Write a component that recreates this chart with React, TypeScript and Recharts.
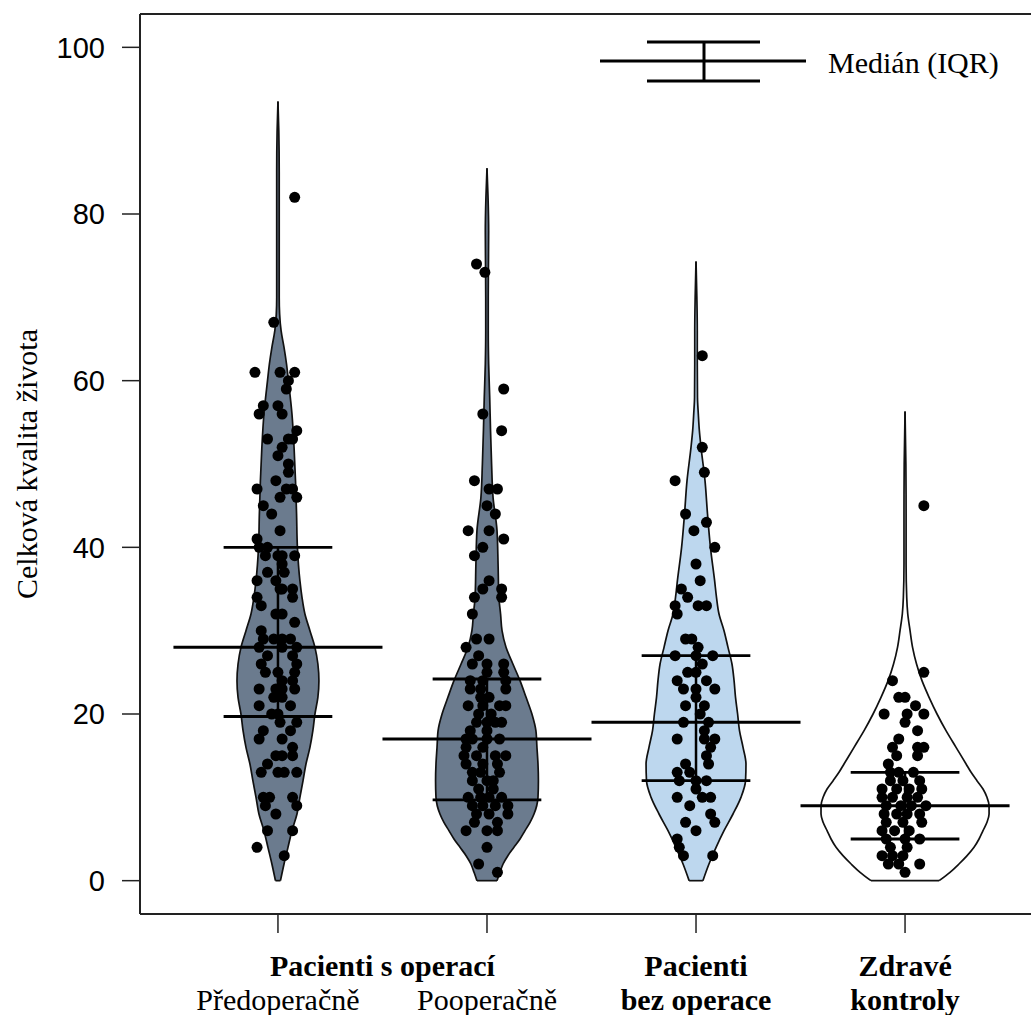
import React from 'react';
import { ComposedChart, Area, Scatter, XAxis, YAxis, ReferenceLine, Legend } from 'recharts';

// ---------- data ----------
const categories = [1, 2, 3, 4];
const medians = [28, 17, 19, 9];
const q1s = [19.7, 9.7, 12, 5];
const q3s = [40, 24.2, 27, 13];
const fills = ['#6b7b8e', '#6b7b8e', '#bdd7ee', '#ffffff'];

// violin outlines: levels (quality value) and half-width (in category units)
const levels1 = [0, 2, 4, 6, 8, 10, 12, 14, 16, 18, 20, 22, 24, 26, 28, 30, 32, 34, 36, 40, 44, 48, 52, 56, 60, 62, 64, 66, 68, 70, 75, 80, 85, 90, 93.5];
const widths1 = [0.012, 0.029, 0.048, 0.067, 0.091, 0.105, 0.12, 0.134, 0.153, 0.167, 0.177, 0.191, 0.196, 0.191, 0.177, 0.153, 0.129, 0.115, 0.105, 0.093, 0.089, 0.084, 0.077, 0.067, 0.05, 0.041, 0.029, 0.015, 0.008, 0.006, 0.006, 0.006, 0.006, 0.004, 0];
const levels2 = [0, 1, 2, 3, 4, 5, 6, 7, 8, 10, 12, 14, 16, 18, 20, 22, 24, 26, 28, 30, 32, 34, 38, 42, 46, 50, 54, 58, 62, 66, 70, 74, 78, 82, 85.5];
const widths2 = [0.048, 0.062, 0.077, 0.1, 0.129, 0.158, 0.182, 0.206, 0.225, 0.244, 0.246, 0.244, 0.239, 0.234, 0.215, 0.187, 0.158, 0.124, 0.091, 0.072, 0.065, 0.057, 0.053, 0.048, 0.029, 0.022, 0.017, 0.013, 0.008, 0.006, 0.006, 0.007, 0.008, 0.005, 0];
const levels3 = [0, 2, 4, 6, 8, 10, 12, 14, 16, 18, 20, 22, 24, 26, 28, 30, 32, 34, 36, 40, 44, 48, 52, 54, 56, 58, 62, 66, 70, 74.3];
const widths3 = [0.033, 0.062, 0.096, 0.134, 0.177, 0.215, 0.237, 0.239, 0.225, 0.208, 0.199, 0.189, 0.182, 0.172, 0.153, 0.134, 0.11, 0.098, 0.089, 0.069, 0.055, 0.043, 0.024, 0.016, 0.011, 0.007, 0.006, 0.006, 0.004, 0];
const levels4 = [0, 1, 2, 3, 4, 5, 6, 7, 8, 9, 10, 11, 12, 13, 14, 16, 18, 20, 22, 24, 26, 28, 30, 32, 34, 38, 44, 50, 56.3];
const widths4 = [0.163, 0.215, 0.258, 0.297, 0.33, 0.354, 0.373, 0.392, 0.402, 0.402, 0.392, 0.373, 0.344, 0.316, 0.292, 0.244, 0.196, 0.153, 0.115, 0.081, 0.055, 0.036, 0.024, 0.013, 0.008, 0.005, 0.005, 0.004, 0];

// points: [value, jitter in hundredths of category spacing]
const points1: [number, number][] = [
  [82, 8], [67, -2], [61, -11], [61, 1], [61, 8], [60, 5], [59, 4], [57, -7], [56, -9], [57, 0], [56, 2], [54, 9],
  [53, -5], [53, 5], [53, 7], [52, 2], [51, 0], [50, 5], [49, 5], [48, -1], [47, -10], [47, 4], [47, 7], [46, 1],
  [46, 9], [45, -7], [44, -3], [42, 1], [41, -10], [40, -9], [40, -5], [39, -6], [39, 0], [39, 2], [39, 8], [38, 2],
  [37, -5], [37, 3], [36, -10], [36, -1], [35, 1], [35, 7], [35, 2], [34, -10], [34, 7], [33, -8], [32, -1], [32, 2],
  [31, 8], [30, -8], [29, -7], [29, -2], [29, 2], [29, 6], [28, -9], [28, 2], [28, 9], [27, -5], [27, 7], [26, -8],
  [26, 9], [25, -6], [25, 8], [25, 0], [24, 2], [24, 7], [23, -9], [23, -1], [23, 2], [23, 8], [22, -2], [22, 2],
  [21, -9], [21, 6], [20, -3], [20, 0], [19, 1], [19, 9], [18, 6], [18, -7], [17, -9], [17, 2], [16, 7], [15, -1],
  [15, 2], [15, 7], [14, -5], [13, -8], [13, 0], [13, 3], [13, 9], [10, -7], [10, -4], [10, 7], [9, -6], [9, 9],
  [8, -1], [6, -5], [6, 7], [4, -10], [3, 3],
];
const points2: [number, number][] = [
  [74, -5], [73, -1], [59, 8], [56, -2], [54, 7], [48, -6], [47, 1], [47, 5], [45, 0], [44, 4], [42, -9], [42, 1],
  [41, 8], [40, -2], [39, -6], [36, 1], [35, -2], [35, 7], [34, -6], [34, 7], [32, -7], [29, -5], [29, 1], [28, -10],
  [27, -4], [26, -7], [26, 0], [26, 8], [25, 0], [25, 8], [24, -8], [24, -2], [24, 9], [23, -8], [23, -3], [23, 9],
  [22, -3], [22, 1], [21, -9], [21, -2], [21, 6], [21, 9], [20, -4], [20, 2], [19, -5], [19, 0], [19, 4], [19, 7],
  [18, -8], [18, 0], [17, -10], [17, -7], [17, 0], [17, 6], [16, -10], [16, -2], [15, -11], [15, -5], [15, 4], [15, 9],
  [14, -10], [14, -2], [14, 5], [13, -7], [13, -3], [13, 6], [12, -7], [12, 0], [12, 3], [11, -4], [11, 3], [10, -9],
  [10, -3], [10, 1], [10, 7], [9, -7], [9, -2], [9, 4], [9, 10], [8, -5], [8, 1], [8, 10], [7, -6], [7, 5],
  [6, -10], [6, 0], [6, 5], [4, 0], [2, -4], [1, 5],
];
const points3: [number, number][] = [
  [63, 3], [52, 3], [49, 4], [48, -10], [44, -5], [43, 5], [42, -1], [40, 9], [38, 0], [36, 2], [35, -7], [34, -4],
  [33, -10], [33, 1], [33, 5], [32, -9], [29, -5], [29, -2], [28, 1], [27, -10], [27, 0], [27, 8], [26, 3], [25, -4],
  [25, 0], [24, -9], [24, 5], [23, -6], [23, 0], [23, 9], [22, 0], [21, -5], [21, 4], [20, 2], [19, -6], [19, 6],
  [18, 4], [17, -9], [17, 9], [17, 4], [16, 7], [15, 5], [14, 6], [14, -5], [13, -9], [13, -3], [12, 0], [12, -8],
  [12, 5], [11, 0], [10, -9], [10, 3], [10, 7], [9, -3], [8, 7], [7, -5], [6, 0], [7, 9], [5, -9], [4, -8],
  [3, -6], [3, 8],
];
const points4: [number, number][] = [
  [45, 9], [25, 9], [24, -6], [22, -3], [22, 0], [21, 5], [20, -10], [20, 1], [20, 9], [19, 0], [18, 6], [17, -3],
  [16, -6], [16, 6], [16, 9], [15, -4], [15, 6], [14, -8], [13, -7], [13, -3], [13, 4], [12, 7], [12, -7], [12, -1],
  [11, 8], [11, -11], [11, -4], [11, 2], [10, -11], [10, -6], [10, 1], [10, 6], [9, -9], [9, -2], [9, 3], [9, 10],
  [8, -10], [8, -4], [8, 1], [8, 7], [7, -9], [7, -1], [7, 8], [6, -11], [6, -5], [6, 2], [5, -9], [5, 0],
  [5, 7], [4, -7], [4, 1], [3, -11], [3, -6], [3, -1], [2, 7], [2, -8], [2, -3], [1, 0],
];

const yTicks = [0, 20, 40, 60, 80, 100];
const xTickValues = [1, 1.5, 2, 3, 4];
const xTickMark = [true, false, true, true, true];
const xRow1 = ['', 'Pacienti s operací', '', 'Pacienti', 'Zdravé'];
const xRow2 = ['Předoperačně', '', 'Pooperačně', 'bez operace', 'kontroly'];
const xRow2Bold = [false, false, false, true, true];
const yTitle = 'Celková kvalita života';
const legendLabel = 'Medián (IQR)';

// ---------- derived ----------
const allLevels = [levels1, levels2, levels3, levels4];
const allWidths = [widths1, widths2, widths3, widths4];
const allPoints = [points1, points2, points3, points4];

const violins = categories.map((c, g) =>
  allLevels[g].map((y, i) => ({ y, range: [c - allWidths[g][i], c + allWidths[g][i]] }))
);
const scatterData = categories.map((c, g) => allPoints[g].map(([v, j]) => ({ x: c + j / 100, y: v })));

const SERIF = '"Liberation Serif", "Times New Roman", serif';
const SANS = '"Liberation Sans", Arial, sans-serif';

function XTick(props: any) {
  const { x, y, payload } = props;
  const i = xTickValues.indexOf(payload.value);
  if (i < 0) return null;
  return (
    <g>
      {xTickMark[i] && <line x1={x} x2={x} y1={y} y2={y + 19} stroke="#222" strokeWidth={1.5} />}
      {xRow1[i] && (
        <text x={x} y={y + 62} textAnchor="middle" fontFamily={SERIF} fontWeight="bold" fontSize={30} fill="#000">
          {xRow1[i]}
        </text>
      )}
      {xRow2[i] && (
        <text x={x} y={y + 96} textAnchor="middle" fontFamily={SERIF} fontWeight={xRow2Bold[i] ? 'bold' : 'normal'} fontSize={30} fill="#000">
          {xRow2[i]}
        </text>
      )}
    </g>
  );
}

function YTitle(props: any) {
  const vb = props.viewBox || { x: 0, y: 14, width: 140, height: 900 };
  const cx = vb.x + 37;
  const cy = vb.y + vb.height / 2;
  return (
    <text x={cx} y={cy} transform={`rotate(-90 ${cx} ${cy})`} textAnchor="middle" fontFamily={SERIF} fontSize={30} fill="#000">
      {yTitle}
    </text>
  );
}

function LegendBox() {
  return (
    <svg width={430} height={70} style={{ display: 'block' }}>
      <line x1={4} x2={210} y1={31} y2={31} stroke="#000" strokeWidth={3} />
      <line x1={51} x2={164} y1={12} y2={12} stroke="#000" strokeWidth={3} />
      <line x1={51} x2={164} y1={51} y2={51} stroke="#000" strokeWidth={3} />
      <line x1={108} x2={108} y1={12} y2={51} stroke="#000" strokeWidth={3} />
      <text x={232} y={43} fontFamily={SERIF} fontSize={30} fill="#000">{legendLabel}</text>
    </svg>
  );
}

const Dot = (p: any) => <circle cx={p.cx} cy={p.cy} r={5.5} fill="#000" />;

export default function App() {
  return (
    <div style={{ position: 'absolute', left: 0, top: 0, width: 1031, height: 1015, overflow: 'hidden', background: '#fff' }}>
      <ComposedChart width={1050} height={1015} layout="vertical" margin={{ top: 14, right: 7, bottom: 0, left: 0 }}>
        <XAxis
          type="number"
          dataKey="x"
          domain={[0.34, 4.66]}
          allowDataOverflow
          ticks={xTickValues}
          interval={0}
          tickLine={false}
          tickSize={0}
          tickMargin={0}
          tick={<XTick />}
          height={101}
          axisLine={{ stroke: '#222', strokeWidth: 2 }}
        />
        <YAxis
          type="number"
          dataKey="y"
          domain={[-4, 104]}
          allowDataOverflow
          reversed
          ticks={yTicks}
          interval={0}
          width={140}
          tickSize={18}
          tickMargin={17}
          tick={{ fontFamily: SANS, fontSize: 29, fill: '#000' }}
          tickLine={{ stroke: '#222', strokeWidth: 1.5 }}
          axisLine={{ stroke: '#222', strokeWidth: 2 }}
          label={<YTitle />}
        />
        <ReferenceLine y={104} stroke="#222" strokeWidth={2} ifOverflow="visible" />
        {violins.map((d, g) => (
          <Area
            key={`v${g}`}
            data={d}
            dataKey="range"
            type="monotone"
            fill={fills[g]}
            fillOpacity={1}
            stroke="#111"
            strokeWidth={1.7}
            isAnimationActive={false}
            dot={false}
            activeDot={false}
          />
        ))}
        {violins.map((d, g) => (
          <ReferenceLine
            key={`b${g}`}
            segment={[{ x: d[0].range[0], y: d[0].y }, { x: d[0].range[1], y: d[0].y }]}
            stroke="#111"
            strokeWidth={1.7}
            ifOverflow="visible"
          />
        ))}
        {scatterData.map((d, g) => (
          <Scatter key={`s${g}`} data={d} shape={Dot} isAnimationActive={false} />
        ))}
        {categories.map((c, g) => (
          <ReferenceLine key={`m${g}`} segment={[{ x: c - 0.5, y: medians[g] }, { x: c + 0.5, y: medians[g] }]} stroke="#000" strokeWidth={3} ifOverflow="visible" />
        ))}
        {categories.map((c, g) => (
          <ReferenceLine key={`q1${g}`} segment={[{ x: c - 0.26, y: q1s[g] }, { x: c + 0.26, y: q1s[g] }]} stroke="#000" strokeWidth={2.8} ifOverflow="visible" />
        ))}
        {categories.map((c, g) => (
          <ReferenceLine key={`q3${g}`} segment={[{ x: c - 0.26, y: q3s[g] }, { x: c + 0.26, y: q3s[g] }]} stroke="#000" strokeWidth={2.8} ifOverflow="visible" />
        ))}
        {categories.map((c, g) => (
          <ReferenceLine key={`iq${g}`} segment={[{ x: c, y: q1s[g] }, { x: c, y: q3s[g] }]} stroke="#000" strokeWidth={2.5} ifOverflow="visible" />
        ))}
        <Legend
          layout="horizontal"
          verticalAlign="middle"
          align="center"
          content={() => <LegendBox />}
          wrapperStyle={{ position: 'absolute', left: 596, top: 30, width: 430, height: 70 }}
        />
      </ComposedChart>
    </div>
  );
}
